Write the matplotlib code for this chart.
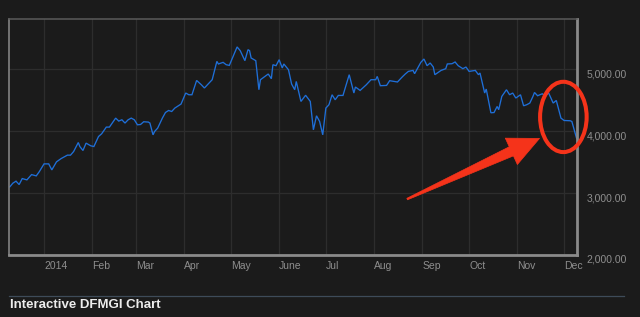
#!/usr/bin/env python3
"""Recreate the interactive DFMGI index chart (Dec 2013 - Dec 2014) with the red call-out."""

from __future__ import annotations

from pathlib import Path

import numpy as np
import pandas as pd

import matplotlib

matplotlib.use("Agg")
import matplotlib.pyplot as plt
from matplotlib.patches import Ellipse, Polygon
from matplotlib.transforms import IdentityTransform


OUTPUT_PATH = Path("out.png")
BASE_DATE = pd.Timestamp("2014-01-01")

# days since 2014-01-01 and the index close
DAY_OFFSETS = [
    -22, -20, -18, -16, -14, -11, -8, -5, -3, 0, 3, 5, 8, 11, 15, 17, 19, 22, 23, 25,
    27, 30, 32, 35, 37, 40, 42, 46, 48, 50, 52, 54, 56, 58, 60, 62, 64, 67, 68, 70,
    71, 73, 76, 78, 80, 82, 84, 88, 91, 93, 95, 98, 101, 103, 108, 111, 112, 115, 117, 119,
    124, 126, 129, 131, 132, 133, 136, 138, 139, 144, 146, 147, 149, 151, 153, 154, 157, 159, 161, 162,
    163, 165, 168, 171, 173, 175, 177, 179, 181, 183, 185, 187, 189, 192, 196, 199, 200, 203, 207, 210,
    213, 214, 216, 220, 222, 227, 230, 232, 234, 237, 238, 242, 244, 246, 248, 250, 251, 255, 258, 259,
    262, 264, 266, 269, 271, 273, 277, 279, 280, 282, 283, 284, 287, 289, 291, 292, 294, 297, 299, 301,
    303, 306, 308, 310, 312, 314, 315, 317, 320, 322, 324, 327, 329, 332, 334, 338, 339, 342,
]
INDEX_VALUES = [
    3100, 3160, 3192, 3137, 3234, 3213, 3298, 3277, 3347, 3471, 3471, 3374, 3504, 3557, 3612, 3612, 3670, 3816, 3751, 3687,
    3806, 3763, 3751, 3913, 3957, 4065, 4065, 4210, 4162, 4183, 4130, 4183, 4210, 4183, 4102, 4107, 4151, 4146, 4130, 3940,
    3994, 4049, 4210, 4301, 4333, 4317, 4372, 4437, 4615, 4587, 4587, 4818, 4749, 4696, 4830, 5126, 5084, 5110, 5072, 5061,
    5359, 5299, 5137, 5315, 5299, 5181, 5137, 4668, 4830, 4922, 4846, 5072, 5056, 5153, 5019, 5084, 4991, 4760, 4668, 4802,
    4696, 4479, 4579, 4479, 4021, 4248, 4155, 3940, 4372, 4426, 4587, 4506, 4576, 4576, 4911, 4615, 4712, 4657, 4749, 4830,
    4830, 4883, 4733, 4738, 4814, 4793, 4873, 4922, 4964, 4980, 4927, 5110, 5164, 5056, 5100, 5035, 4911, 4980, 5008, 5084,
    5088, 5116, 5056, 5008, 5035, 4964, 4980, 4911, 4938, 4721, 4615, 4679, 4296, 4300, 4398, 4345, 4560, 4668, 4587, 4615,
    4534, 4587, 4409, 4426, 4453, 4560, 4624, 4571, 4603, 4560, 4620, 4453, 4495, 4210, 4172, 4167, 4155, 3887,
]

MONTH_STARTS = [
    "2014-01-01", "2014-02-01", "2014-03-01", "2014-04-01", "2014-05-01", "2014-06-01",
    "2014-07-01", "2014-08-01", "2014-09-01", "2014-10-01", "2014-11-01", "2014-12-01",
]
MONTH_LABELS = ["2014", "Feb", "Mar", "Apr", "May", "June", "Jul", "Aug", "Sep", "Oct", "Nov", "Dec"]
Y_TICKS = [2000, 3000, 4000, 5000]
Y_LIMITS = (2000, 5810)
X_LIMIT_DAYS = (-22.5, 342.3)

BG = "#1b1b1b"
GRID = "#2d2d2d"
FRAME = "#8a8a8a"
TICK_TEXT = "#8e8e8e"
LINE = "#1f6fd8"
RED = "#f5331a"
FONT = ["Liberation Sans", "DejaVu Sans"]


def tapered_arrow(tail_px: np.ndarray, tip_px: np.ndarray) -> np.ndarray:
    """Outline of a hand-drawn style arrow: thin tail widening into a wide head (pixels)."""
    direction = tip_px - tail_px
    u = direction / np.linalg.norm(direction)
    n = np.array([-u[1], u[0]])
    head_len, head_half, tail_half, neck_half = 31.0, 14.5, 0.8, 5.0
    neck = tip_px - u * head_len
    return np.array([
        tail_px + n * tail_half,
        neck + n * neck_half,
        neck + n * head_half,
        tip_px,
        neck - n * head_half,
        neck - n * neck_half,
        tail_px - n * tail_half,
    ])


def write_plot(output_path: Path) -> None:
    plt.rcParams["font.family"] = FONT
    dates = BASE_DATE + pd.to_timedelta(np.asarray(DAY_OFFSETS, dtype=float), unit="D")

    fig = plt.figure(figsize=(6.4, 3.17), dpi=100, facecolor=BG)
    ax = fig.add_axes([9 / 640, 62 / 317, 568 / 640, 236 / 317], facecolor=BG)

    ax.plot(dates, INDEX_VALUES, color=LINE, linewidth=0.95, solid_joinstyle="miter")

    ax.set_xlim(BASE_DATE + pd.Timedelta(days=X_LIMIT_DAYS[0]), BASE_DATE + pd.Timedelta(days=X_LIMIT_DAYS[1]))
    ax.set_ylim(*Y_LIMITS)

    ax.set_xticks(pd.to_datetime(MONTH_STARTS))
    ax.set_xticklabels(MONTH_LABELS, ha="left", color=TICK_TEXT, fontsize=7.5)
    ax.set_yticks(Y_TICKS)
    ax.set_yticklabels([f"{v:,.2f}" for v in Y_TICKS], color=TICK_TEXT, fontsize=7.5, va="top")
    ax.yaxis.tick_right()
    ax.tick_params(axis="x", length=0, pad=4)
    ax.tick_params(axis="y", length=0, pad=7)
    ax.grid(True, color=GRID, linewidth=0.9)
    ax.set_axisbelow(True)

    for side, spine in ax.spines.items():
        spine.set_color(FRAME)
        spine.set_linewidth(2.0 if side in ("bottom", "right") else 1.1)
    ax.spines["top"].set_color("#5a5a5a")

    # red call-out around the late-November slide
    ax.add_patch(
        Ellipse((0.976, 0.585), 0.082, 0.298, transform=ax.transAxes, fill=False,
                edgecolor=RED, linewidth=2.9, clip_on=False, zorder=5)
    )
    tail_px = ax.transAxes.transform((0.701, 0.237))
    tip_px = ax.transAxes.transform((0.934, 0.494))
    fig.add_artist(
        Polygon(tapered_arrow(tail_px, tip_px), closed=True, transform=IdentityTransform(),
                facecolor=RED, edgecolor=RED, linewidth=0.5, joinstyle="round", zorder=5)
    )

    fig.add_artist(plt.Line2D([9 / 640, 624 / 640], [1 - 296 / 317] * 2, color="#3e4b59", linewidth=0.9))
    fig.text(10 / 640, 1 - 308 / 317, "Interactive DFMGI Chart", color="#ececec",
             fontsize=9.5, fontweight="bold", ha="left", va="baseline")

    fig.savefig(output_path, dpi=100, facecolor=BG)
    plt.close(fig)


def main() -> int:
    write_plot(OUTPUT_PATH)
    return 0


if __name__ == "__main__":
    raise SystemExit(main())
